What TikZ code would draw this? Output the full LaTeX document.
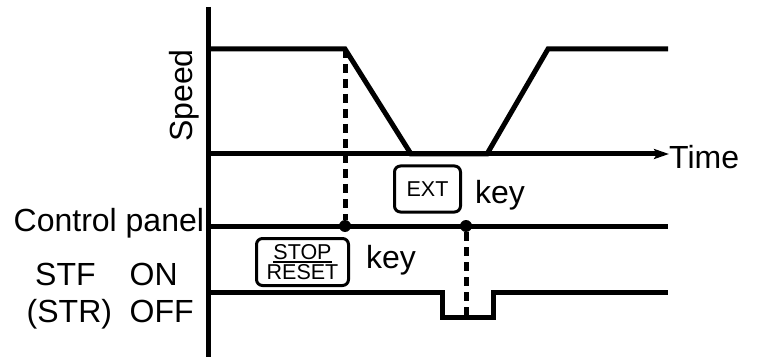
\documentclass[tikz,border=0pt]{standalone}
\usepackage{fontspec}
\setmainfont{Liberation Sans}
\usetikzlibrary{arrows.meta}
\newcommand{\keybar}[1]{\setbox0=\hbox{#1}\rlap{\rule[-4pt]{\wd0}{2pt}}\box0}

\begin{document}
\begin{tikzpicture}[x=1pt,y=-1pt,
  sig/.style={line width=5pt},
  cue/.style={line width=5pt,dash pattern=on 9pt off 6pt},
  jdot/.style={circle,fill,inner sep=0pt,minimum size=12pt},
  lbl/.style={inner sep=0pt,anchor=base west,font=\fontsize{32}{38}\selectfont},
  keybox/.style={draw,line width=3pt,rounded corners=6pt,inner sep=0pt,align=center,font=\fontsize{21.5}{20}\selectfont}]
\useasboundingbox (0,0) rectangle (757,358);
% time axis and speed profile
\coordinate (ytop) at (208,7);
\coordinate (ybot) at (208,357);
\coordinate (org) at (208,154);
\coordinate (s1) at (345,49);
\node[lbl] (time) at (669,168) {Time};
\node[lbl,rotate=90] (speed) at (192,142) {Speed};
\draw[sig] (ytop) -- (ybot);
\draw[sig,-{Stealth[length=15pt,width=10pt,inset=3pt]}] (org) -- (time.west |- org);
\draw[sig] (208,49) -- (s1) -- (411,154) -- (487,154) -- (548,49) -- (668,49);
% control panel and STF signals
\draw[sig] (208,226) -- (668,226);
\draw[sig] (208,292) -- (442,292) -- (442,317) -- (493,317) -- (493,292) -- (668,292);
\node[jdot] (d1) at (345,226) {};
\node[jdot] (d2) at (466,226) {};
\coordinate (low) at (466,317);
\draw[cue] (s1) -- (d1);
\draw[cue] (d2) -- (low);
% keys
\node[keybox,minimum width=66pt,minimum height=46pt] (ext) at (427.5,189) {EXT};
\node[keybox,minimum width=92pt,minimum height=47pt] (stop) at (302.5,262) {\keybar{STOP}\\RESET};
\node[lbl] (extkey) at (475,204) {key};
\node[lbl] (stopkey) at (366,268) {key};
% left labels
\foreach \name/\x/\y/\txt in {cp/13.5/231/Control panel,stf/35/285/STF,on/129.5/285/ON,str/26.5/322/(STR),off/129.5/322/OFF}
  \node[lbl] (\name) at (\x,\y) {\txt};
\end{tikzpicture}
\end{document}
